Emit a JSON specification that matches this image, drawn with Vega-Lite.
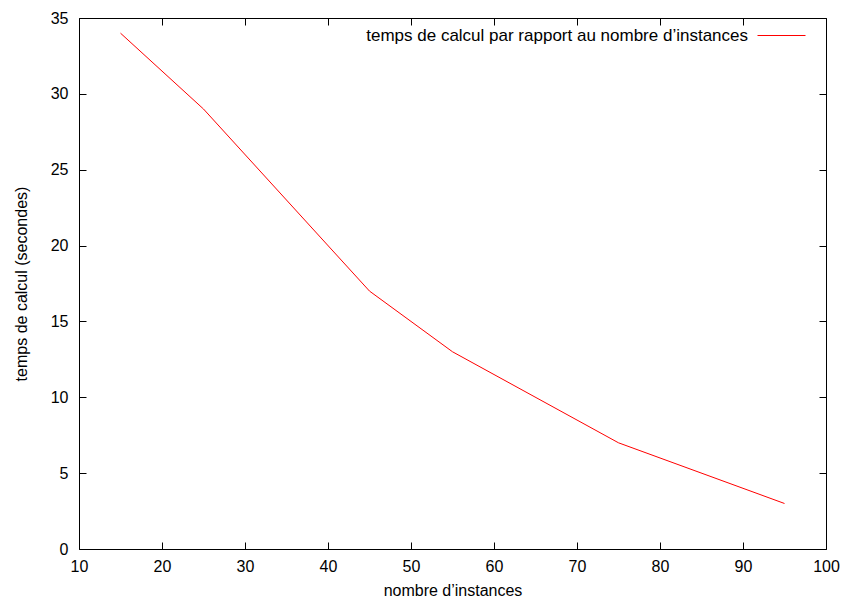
{
  "$schema": "https://vega.github.io/schema/vega-lite/v6.json",
  "width": 747,
  "height": 531,
  "autosize": {"type": "none"},
  "padding": {"left": 79, "top": 18, "right": 15, "bottom": 49},
  "background": "white",
  "config": {
    "font": "Liberation Sans",
    "view": {"stroke": null},
    "axis": {
      "grid": false,
      "domainColor": "black",
      "domainWidth": 1,
      "tickColor": "black",
      "tickWidth": 1,
      "tickSize": -7,
      "labelFont": "Liberation Sans",
      "labelFontSize": 16,
      "labelColor": "black",
      "titleFont": "Liberation Sans",
      "titleFontSize": 16,
      "titleFontWeight": "normal",
      "titleColor": "black"
    }
  },
  "data": {
    "values": [
      {"instances": 15, "temps": 34, "serie": "temps de calcul par rapport au nombre d’instances"},
      {"instances": 25, "temps": 29, "serie": "temps de calcul par rapport au nombre d’instances"},
      {"instances": 45, "temps": 17, "serie": "temps de calcul par rapport au nombre d’instances"},
      {"instances": 55, "temps": 13, "serie": "temps de calcul par rapport au nombre d’instances"},
      {"instances": 75, "temps": 7, "serie": "temps de calcul par rapport au nombre d’instances"},
      {"instances": 95, "temps": 3, "serie": "temps de calcul par rapport au nombre d’instances"}
    ]
  },
  "layer": [
    {
      "mark": {"type": "line", "strokeWidth": 1, "clip": true},
      "encoding": {
        "x": {
          "field": "instances", "type": "quantitative",
          "scale": {"domain": [10, 100], "nice": false},
          "axis": {"orient": "bottom", "title": "nombre d’instances", "values": [10,20,30,40,50,60,70,80,90,100], "labelPadding": 16, "titlePadding": 8, "labelFlush": false}
        },
        "y": {
          "field": "temps", "type": "quantitative",
          "scale": {"domain": [0, 35], "nice": false},
          "axis": {"orient": "left", "title": "temps de calcul (secondes)", "values": [0,5,10,15,20,25,30,35], "labelPadding": 18, "titlePadding": 21}
        },
        "color": {
          "field": "serie", "type": "nominal",
          "scale": {"range": ["#ff0000"]},
          "legend": {
            "title": null,
            "orient": "none",
            "legendX": 678,
            "legendY": -7,
            "symbolType": "stroke",
            "symbolSize": 2304,
            "symbolStrokeWidth": 1,
            "labelFontSize": 17,
            "labelFont": "Liberation Sans",
            "labelColor": "black",
            "labelAlign": "right",
            "labelOffset": -58,
            "labelLimit": 600
          }
        }
      }
    },
    {
      "mark": {"type": "line", "strokeOpacity": 0},
      "encoding": {
        "x": {
          "field": "instances", "type": "quantitative",
          "axis": {"orient": "top", "title": null, "labels": false, "values": [10,20,30,40,50,60,70,80,90,100]}
        },
        "y": {
          "field": "temps", "type": "quantitative",
          "axis": {"orient": "right", "title": null, "labels": false, "values": [0,5,10,15,20,25,30,35]}
        }
      }
    }
  ],
  "resolve": {"axis": {"x": "independent", "y": "independent"}}
}
